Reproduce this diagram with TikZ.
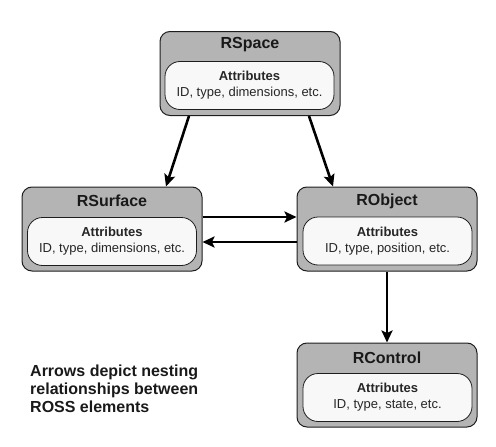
\documentclass[tikz,border=0pt]{standalone}
\usepackage{fontspec}
\setmainfont{Liberation Sans}
\usetikzlibrary{arrows.meta}
\definecolor{boxgray}{RGB}{180,180,180}
\definecolor{innerwhite}{RGB}{248,248,248}
\definecolor{edge}{RGB}{30,30,30}
\tikzset{
  outerbox/.style={draw=edge, fill=boxgray, line width=1pt, rounded corners=10pt,
    minimum width=180pt, minimum height=84pt, inner sep=0pt},
  innerbox/.style={draw=edge, fill=innerwhite, line width=0.8pt, rounded corners=15pt,
    minimum width=169pt, minimum height=48pt, inner sep=0pt, align=center,
    font=\fontsize{13}{16}\selectfont, text=black!85},
  titletext/.style={font=\bfseries\fontsize{16}{18}\selectfont, text=black!90, inner sep=0pt},
  arr/.style={line width=2.6pt, -{Stealth[length=12pt,width=11pt,inset=2.5pt]}},
}
\begin{document}
\begin{tikzpicture}[x=1pt,y=-1pt]
\useasboundingbox (0,0) rectangle (496,447);
% RSpace
\node[outerbox] (rspace) at (250,73.5) {};
\node[titletext] (rspacet) at (250,45) {RSpace};
\node[innerbox] (rspacei) at (249.5,85.5) {\textbf{Attributes}\\ID, type, dimensions, etc.};
% RSurface
\node[outerbox] (rsurface) at (112,229) {};
\node[titletext] (rsurfacet) at (112,201) {RSurface};
\node[innerbox] (rsurfacei) at (112,241.5) {\textbf{Attributes}\\ID, type, dimensions, etc.};
% RObject
\node[outerbox] (robject) at (387,229) {};
\node[titletext] (robjectt) at (387,201) {RObject};
\node[innerbox] (robjecti) at (387.5,241) {\textbf{Attributes}\\ID, type, position, etc.};
% RControl
\node[outerbox] (rcontrol) at (387,385) {};
\node[titletext] (rcontrolt) at (387,357.5) {RControl};
\node[innerbox] (rcontroli) at (387.5,397.5) {\textbf{Attributes}\\ID, type, state, etc.};
% arrows
\draw[arr] ([xshift=-61pt]rspace.south) -- ([xshift=54pt]rsurface.north);
\draw[arr] ([xshift=59pt]rspace.south) -- ([xshift=-54pt]robject.north);
\draw[arr] ([yshift=12pt]rsurface.east) -- ([yshift=12pt]robject.west);
\draw[arr] ([yshift=-13pt]robject.west) -- ([yshift=-13pt]rsurface.east);
\draw[arr] (robject.south) -- (rcontrol.north);
% caption
\node[anchor=north west, align=left, inner sep=0pt, text=black!90,
  font=\bfseries\fontsize{16}{18}\selectfont] (caption) at (30,364.5)
  {Arrows depict nesting\\relationships between\\ROSS elements};
\end{tikzpicture}
\end{document}
